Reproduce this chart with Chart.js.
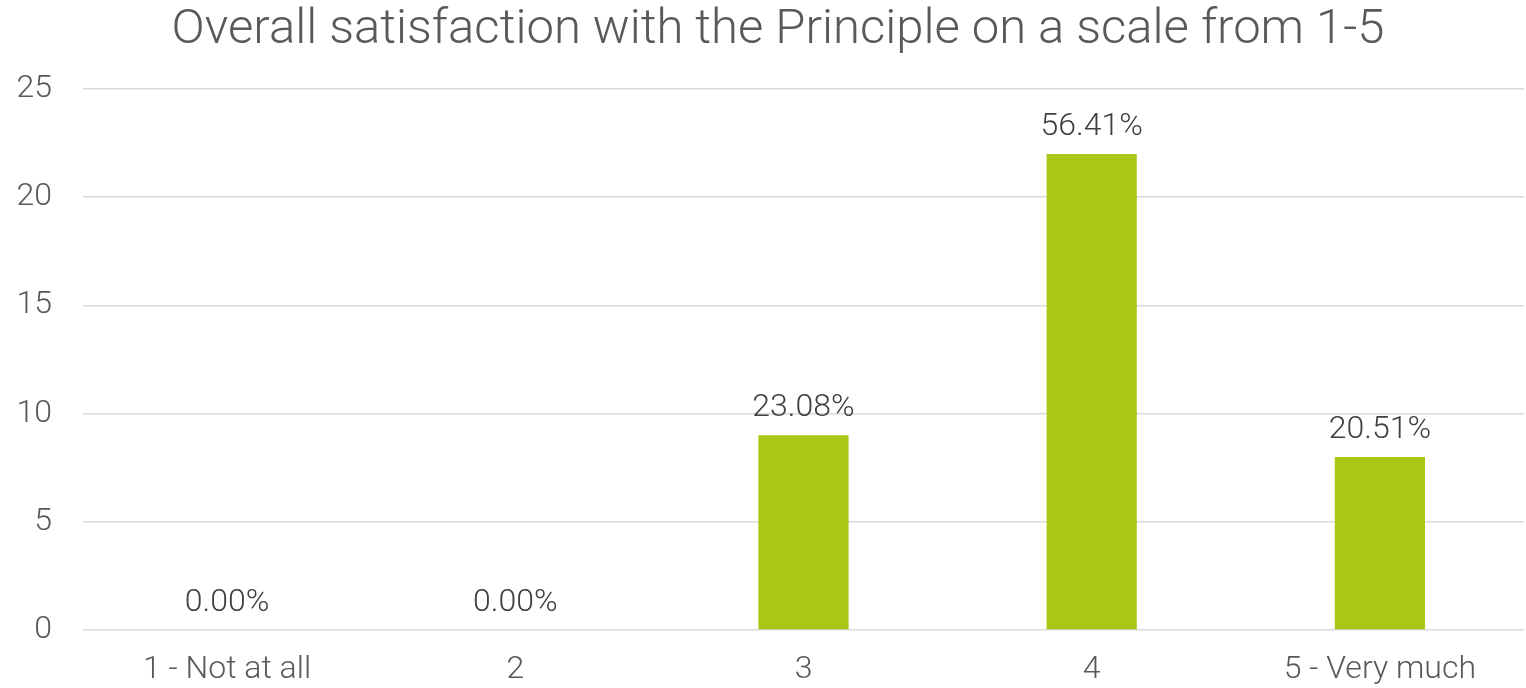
<!DOCTYPE html>
<html>
<head>
<meta charset="utf-8">
<script src="https://cdn.jsdelivr.net/npm/chart.js@4/dist/chart.umd.min.js"></script>
<style>
  html, body { margin: 0; padding: 0; background: #ffffff; }
  #wrap { width: 1526px; height: 688px; position: relative; }
</style>
</head>
<body>
<div id="wrap"><canvas id="c"></canvas></div>
<script>
const titleText = 'Overall satisfaction with the Principle on a scale from 1-5';
const categories = ['1 - Not at all', '2', '3', '4', '5 - Very much'];
const counts = [0, 0, 9, 22, 8];
const percentLabels = ['0.00%', '0.00%', '23.08%', '56.41%', '20.51%'];
const yTicks = [0, 5, 10, 15, 20, 25];

const FONT = 'Roboto';

const titlePlugin = {
  id: 'customTitle',
  afterDraw(chart) {
    const ctx = chart.ctx;
    ctx.save();
    ctx.font = '300 49px ' + FONT;
    ctx.fillStyle = '#595959';
    ctx.textAlign = 'center';
    ctx.textBaseline = 'alphabetic';
    ctx.fillText(titleText, 778, 43);
    ctx.restore();
  }
};

const valueLabels = {
  id: 'valueLabels',
  afterDatasetsDraw(chart) {
    const ctx = chart.ctx;
    const meta = chart.getDatasetMeta(0);
    ctx.save();
    ctx.font = '300 32px ' + FONT;
    ctx.fillStyle = '#404040';
    ctx.textAlign = 'center';
    ctx.textBaseline = 'alphabetic';
    meta.data.forEach((bar, i) => {
      ctx.fillText(percentLabels[i], bar.x, bar.y - 19);
    });
    ctx.restore();
  }
};

new Chart(document.getElementById('c'), {
  type: 'bar',
  data: {
    labels: categories,
    datasets: [{
      data: counts,
      backgroundColor: '#a9c813',
      borderWidth: 0,
      barPercentage: 0.626,
      categoryPercentage: 0.5
    }]
  },
  options: {
    responsive: true,
    maintainAspectRatio: false,
    animation: false,
    layout: { padding: { top: 89, left: 16, right: 2, bottom: 0 } },
    plugins: {
      legend: { display: false },
      title: { display: false },
      tooltip: { enabled: false }
    },
    scales: {
      x: {
        grid: { display: false, drawTicks: false },
        border: { display: false },
        afterFit(axis) { axis.height = 58; },
        ticks: {
          color: '#595959',
          font: { family: FONT, size: 32, weight: '300' },
          padding: 21,
          maxRotation: 0,
          autoSkip: false
        }
      },
      y: {
        min: 0,
        max: 25,
        afterBuildTicks(axis) { axis.ticks = yTicks.map(v => ({ value: v })); },
        afterFit(axis) { axis.width = 67; },
        grid: { color: '#d9d9d9', lineWidth: 1.5, drawTicks: false },
        border: { display: false },
        ticks: {
          color: '#595959',
          font: { family: FONT, size: 32, weight: '300' },
          padding: 31
        }
      }
    }
  },
  plugins: [titlePlugin, valueLabels]
});
</script>
</body>
</html>
